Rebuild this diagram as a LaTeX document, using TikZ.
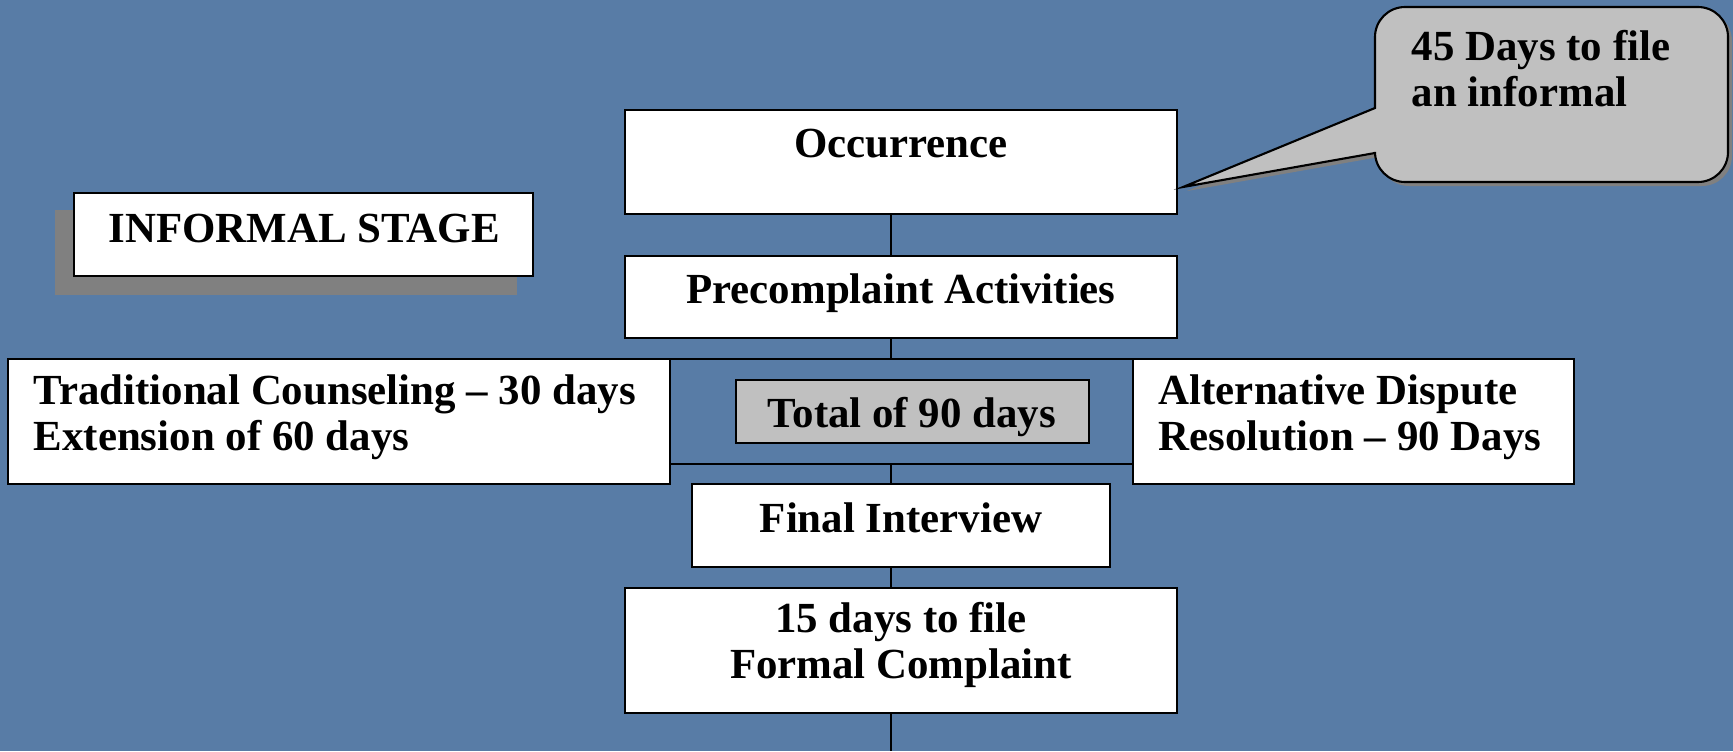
\documentclass[tikz,border=0pt]{standalone}
\usepackage{fontspec}
\setmainfont{Liberation Serif}
\usetikzlibrary{calc}
\definecolor{bgblue}{RGB}{88,124,166}
\definecolor{boxgray}{RGB}{192,192,192}
\definecolor{shadowgray}{RGB}{128,128,128}
\begin{document}
\begin{tikzpicture}[x=0.01cm,y=-0.01cm,
  wbox/.style={draw=black, line width=0.6pt, fill=white, inner sep=0pt, outer sep=0pt, rectangle},
  gbox/.style={wbox, fill=boxgray},
  txt/.style={inner sep=0pt, font=\fontsize{12.2}{12.8}\selectfont\bfseries},
  conn/.style={draw=black, line width=0.6pt}
]
\useasboundingbox (0,0) rectangle (1733,751);
\fill[bgblue] (0,0) rectangle (1733,751);

% boxes: centre = midpoint of pixel extent (1 px = 0.01 cm)
\node[wbox, minimum width=5.51cm, minimum height=1.04cm] (occ) at (901,162) {};
\node[wbox, minimum width=5.51cm, minimum height=0.82cm] (pre) at (901,297) {};
\node[wbox, minimum width=6.62cm, minimum height=1.25cm] (trad) at (339,421.5) {};
\node[wbox, minimum width=4.41cm, minimum height=1.25cm] (adr) at (1353.5,421.5) {};
\node[gbox, minimum width=3.53cm, minimum height=0.63cm] (tot) at (912.5,411.5) {};
\node[wbox, minimum width=4.18cm, minimum height=0.83cm] (fin) at (901,525.5) {};
\node[wbox, minimum width=5.51cm, minimum height=1.25cm] (fif) at (901,650.5) {};

% informal stage with flat shadow
\fill[shadowgray] (55,210) rectangle (517,295);
\node[wbox, minimum width=4.59cm, minimum height=0.83cm] (inf) at (303.5,234.5) {};

% texts (multi-line: base = baseline of last line)
\node[txt, anchor=base] (occt) at (901,157) {Occurrence};
\node[txt, anchor=base] (pret) at (901,303) {Precomplaint Activities};
\node[txt, anchor=base] (inft) at (304,242) {INFORMAL STAGE};
\node[txt, anchor=base west, align=left] (tradt) at (33,450) {Traditional Counseling -- 30 days\\Extension of 60 days};
\node[txt, anchor=base west, align=left] (adrt) at (1158,450) {Alternative Dispute\\Resolution -- 90 Days};
\node[txt, anchor=base] (tott) at (912,427) {Total of 90 days};
\node[txt, anchor=base] (fint) at (901,532) {Final Interview};
\node[txt, anchor=base, align=center] (fift) at (901,678) {15 days to file\\Formal Complaint};

% connectors
\coordinate (jtop) at (891,360);
\coordinate (jbot) at (891,464);
\coordinate (jend) at (891,751);
\draw[conn] (occ.south -| jtop) -- (pre.north -| jtop);
\draw[conn] (pre.south -| jtop) -- (jtop);
\draw[conn] (trad.north east) -- (adr.north west);
\draw[conn] (trad.east |- jbot) -- (adr.west |- jbot);
\draw[conn] (jbot) -- (fin.north -| jbot);
\draw[conn] (fin.south -| jbot) -- (fif.north -| jbot);
\draw[conn] (fif.south -| jbot) -- (jend);

% callout
\coordinate (tip) at (1183,187);
\fill[shadowgray] (1379,112) -- ($(tip)+(4,4)$) -- (1379,157) [rounded corners=0.3cm] -- (1379,186) -- (1732,186) -- (1732,11) -- (1379,11) [sharp corners] -- (1379,112) -- cycle;
\path[draw=black, line width=0.6pt, fill=boxgray] (1375,108) -- (tip) -- (1375,153) [rounded corners=0.3cm] -- (1375,182) -- (1728,182) -- (1728,7) -- (1375,7) [sharp corners] -- (1375,108) -- cycle;
\node[txt, anchor=base west, align=left] (callt) at (1411,106) {45 Days to file\\an informal};
\end{tikzpicture}
\end{document}
